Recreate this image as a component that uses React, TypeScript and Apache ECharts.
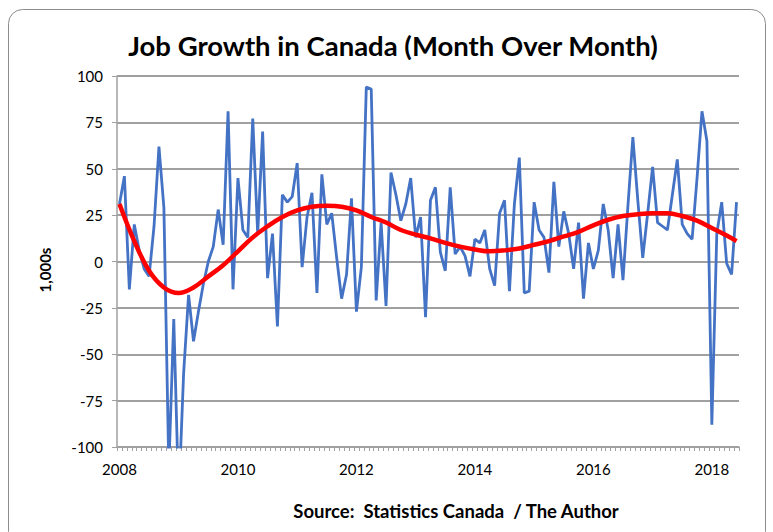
import React, { useEffect, useRef } from "react";
import * as echarts from "echarts";

const startYear = 2008;
const monthCount = 126;
const yearLabels = ["2008", "2010", "2012", "2014", "2016", "2018"];
const yMin = -100;
const yMax = 100;
const yStep = 25;

// Monthly change in employment (thousands), Jan 2008 .. Jun 2018
const jobChange = [
  31, 46, -15, 20, 6, -4, -8, 19, 62, 29,
  -112, -31, -128, -60, -18, -43, -27, -12, 0, 8,
  28, 9, 81, -15, 45, 17, 13, 77, 15, 70,
  -9, 15, -35, 36, 32, 35, 53, -3, 24, 37,
  -17, 47, 20, 26, 2, -20, -7, 34, -27, -3,
  94, 93, -21, 21, -24, 48, 36, 22, 31, 45,
  13, 24, -30, 33, 40, 5, -5, 40, 4, 8,
  3, -8, 12, 10, 17, -4, -13, 26, 33, -16,
  31, 56, -17, -16, 32, 17, 13, -6, 43, 8,
  27, 15, -4, 21, -20, 10, -4, 6, 31, 17,
  -9, 20, -10, 30, 67, 33, 2, 26, 51, 21,
  19, 17, 36, 55, 20, 15, 12, 45, 81, 65,
  -88, 15, 32, -1, -7, 32,
];

// Trend line read at sample months (month index, value)
const trendMonth = [
  0, 3, 6, 9, 12, 15, 18, 21, 24, 27, 30, 33, 36, 39, 42, 45, 48, 51, 54, 57, 60,
  63, 66, 69, 72, 75, 78, 81, 84, 87, 90, 93, 96, 99, 102, 105, 108, 111, 114,
  117, 120, 123, 125,
];
const trendValue = [
  31, 11, -5, -14, -17, -14, -8, -2, 5.5, 13, 19, 24, 27.5, 29.5, 30, 29.5, 27.5,
  24, 21, 17, 14.5, 12.5, 10, 8, 6.5, 5.5, 6, 7, 9, 11, 13.5, 16, 19.5, 22.5,
  24.5, 25.5, 26, 26, 24.5, 22, 18, 14, 11,
];

const titleText = "Job Growth in Canada (Month Over Month)";
const sourceText = "Source:  Statistics Canada  / The Author";
const yAxisTitle = "1,000s";

const months = Array.from(
  { length: monthCount },
  (_, i) => `${startYear + Math.floor(i / 12)}-${String((i % 12) + 1).padStart(2, "0")}`
);

const FONT = "Lato, 'Open Sans', sans-serif";

export default function App() {
  const ref = useRef<HTMLDivElement>(null);
  useEffect(() => {
    if (!ref.current) return;
    const chart = echarts.init(ref.current, undefined, { renderer: "svg" });
    chart.setOption({
      animation: false,
      backgroundColor: "#ffffff",
      grid: { left: 117, top: 76, width: 622, height: 371, containLabel: false },
      xAxis: {
        type: "category",
        data: months,
        boundaryGap: true,
        axisLine: { show: true, onZero: false, lineStyle: { color: "#a0a0a0", width: 1.5 } },
        axisTick: { show: true, interval: 0, length: 4, lineStyle: { color: "#a0a0a0" } },
        axisLabel: {
          interval: (index: number) => index % 24 === 0,
          formatter: (v: string) => {
            const y = v.slice(0, 4);
            return yearLabels.includes(y) ? y : "";
          },
          margin: 14,
          color: "#000",
          fontFamily: FONT,
          fontSize: 15,
        },
        splitLine: { show: false },
      },
      yAxis: {
        type: "value",
        min: yMin,
        max: yMax,
        interval: yStep,
        axisLine: { show: true, lineStyle: { color: "#a0a0a0", width: 1.5 } },
        axisTick: { show: true, length: 5, lineStyle: { color: "#a0a0a0" } },
        axisLabel: { margin: 14, color: "#000", fontFamily: FONT, fontSize: 15 },
        splitLine: { show: true, lineStyle: { color: "#a0a0a0", width: 1.8 } },
      },
      series: [
        {
          type: "line",
          data: jobChange,
          showSymbol: false,
          clip: true,
          lineStyle: { color: "#4472c4", width: 2.8 },
          itemStyle: { color: "#4472c4" },
          z: 2,
        },
        {
          type: "line",
          data: trendMonth.map((m, i) => [m, trendValue[i]]),
          showSymbol: false,
          smooth: 0.4,
          lineStyle: { color: "#ff0000", width: 4.5 },
          itemStyle: { color: "#ff0000" },
          z: 3,
        },
      ],
      graphic: [
        {
          type: "rect",
          shape: { x: 8.5, y: 9.5, width: 757, height: 536, r: 14 },
          style: { fill: "none", stroke: "#8c8c8c", lineWidth: 1 },
          silent: true,
        },
        {
          type: "text",
          x: 393,
          y: 45,
          style: {
            text: titleText,
            textAlign: "center",
            textVerticalAlign: "middle",
            fontFamily: FONT,
            fontWeight: "bold",
            fontSize: 27.5,
            fill: "#000",
          },
        },
        {
          type: "text",
          x: 456,
          y: 511,
          style: {
            text: sourceText,
            textAlign: "center",
            textVerticalAlign: "middle",
            fontFamily: FONT,
            fontWeight: "bold",
            fontSize: 18.5,
            fill: "#000",
          },
        },
        {
          type: "text",
          x: 45,
          y: 270,
          rotation: Math.PI / 2,
          style: {
            text: yAxisTitle,
            textAlign: "center",
            textVerticalAlign: "middle",
            fontFamily: FONT,
            fontWeight: "bold",
            fontSize: 15,
            fill: "#000",
          },
        },
      ],
    });
    return () => chart.dispose();
  }, []);
  return (
    <div
      ref={ref}
      style={{ position: "fixed", left: 0, top: 0, width: 773, height: 532, background: "#fff" }}
    />
  );
}
